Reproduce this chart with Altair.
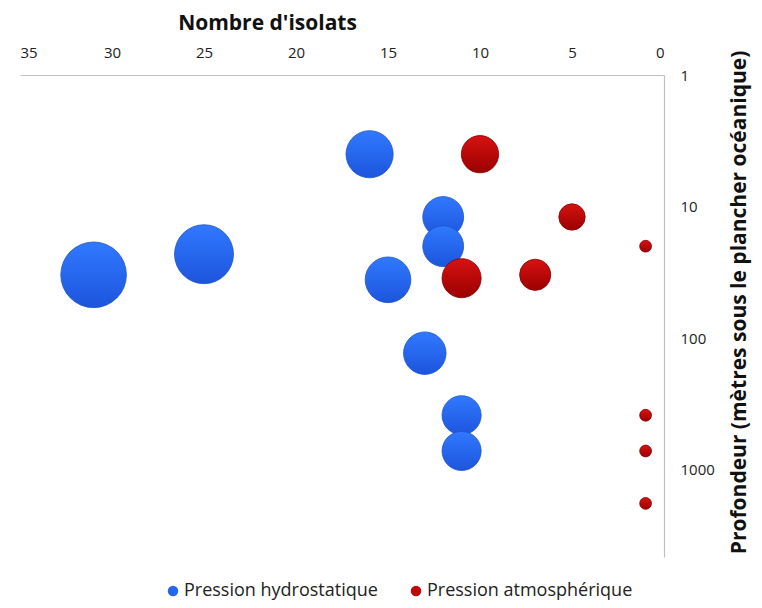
import altair as alt
import pandas as pd

series_names = ["Pression hydrostatique", "Pression atmosphérique"]

hydro_isolats = [16, 12, 12, 25, 31, 15, 13, 11, 11]
hydro_depth = [4, 12, 20, 23, 33, 36, 130, 385, 720]

atmo_isolats = [10, 5, 1, 7, 11, 1, 1, 1]
atmo_depth = [4, 12, 20, 33, 35, 385, 720, 1800]

x_ticks = [0, 5, 10, 15, 20, 25, 30, 35]
y_ticks = [1, 10, 100, 1000]

rows = []
for i, (x, y) in enumerate(zip(hydro_isolats, hydro_depth)):
    rows.append({"serie": series_names[0], "isolats": x, "profondeur": y, "ordre": i})
for i, (x, y) in enumerate(zip(atmo_isolats, atmo_depth)):
    rows.append({"serie": series_names[1], "isolats": x, "profondeur": y, "ordre": 100 + i})
df = pd.DataFrame(rows)

font = "Open Sans"


def grad(c_top, c_bottom):
    return alt.Gradient(
        gradient="linear",
        stops=[alt.GradientStop(color=c_top, offset=0), alt.GradientStop(color=c_bottom, offset=1)],
        x1=0, x2=0, y1=0, y2=1,
    )


base = alt.Chart(df).encode(
    x=alt.X(
        "isolats:Q",
        scale=alt.Scale(domain=[0, 35], reverse=True, nice=False),
        axis=alt.Axis(
            orient="top", values=x_ticks, title="Nombre d'isolats",
            grid=False, ticks=False, domainColor="#BFBFBF", domainWidth=1.2,
            labelFont=font, labelFontSize=15, labelColor="#222222", labelPadding=15,
            titleFont=font, titleFontSize=21, titleFontWeight="bold", titleColor="#111111",
            titlePadding=12, titleX=247, titleAnchor="middle",
        ),
    ),
    y=alt.Y(
        "profondeur:Q",
        scale=alt.Scale(type="log", domain=[1, 4600], reverse=True, nice=False),
        axis=alt.Axis(
            orient="right", values=y_ticks, format="d",
            title="Profondeur (mètres sous le plancher océanique)",
            grid=False, ticks=False, domainColor="#BFBFBF", domainWidth=1.2,
            labelFont=font, labelFontSize=15, labelColor="#222222", labelPadding=16,
            labelAlign="left", labelBaseline="middle",
            titleFont=font, titleFontSize=21, titleFontWeight="bold", titleColor="#111111",
            titlePadding=35, titleAngle=270, titleY=227,
        ),
    ),
    size=alt.Size("isolats:Q", scale=alt.Scale(domain=[0, 35], range=[0, 4865]), legend=None),
    order=alt.Order("ordre:Q"),
)

legend_layer = base.mark_circle(opacity=0).encode(
    color=alt.Color(
        "serie:N",
        scale=alt.Scale(domain=series_names, range=["#2467EE", "#BE0808"]),
        legend=alt.Legend(
            title=None, orient="none", direction="horizontal", legendX=144, legendY=507,
            symbolType="circle", symbolSize=110, labelFont=font, labelFontSize=18,
            labelColor="#222222", columnPadding=29, labelOffset=2, symbolOpacity=1,
            labelLimit=400,
        ),
    ),
)

blue_layer = base.transform_filter(alt.datum.serie == series_names[0]).mark_circle(
    opacity=1, fill=grad("#3079FF", "#1C55DC"), stroke="#1E54C8", strokeWidth=0.8
)
red_layer = base.transform_filter(alt.datum.serie == series_names[1]).mark_circle(
    opacity=1, fill=grad("#D81212", "#9A0000"), stroke="#860000", strokeWidth=0.8
)

chart = alt.layer(legend_layer, blue_layer, red_layer).properties(
    width=644,
    height=482,
    autosize=alt.AutoSizeParams(type="none"),
    padding={"left": 12, "top": 67, "right": 90, "bottom": 43},
).configure_view(stroke=None)

chart.save("out.html", embed_options={"renderer": "svg", "actions": False})
